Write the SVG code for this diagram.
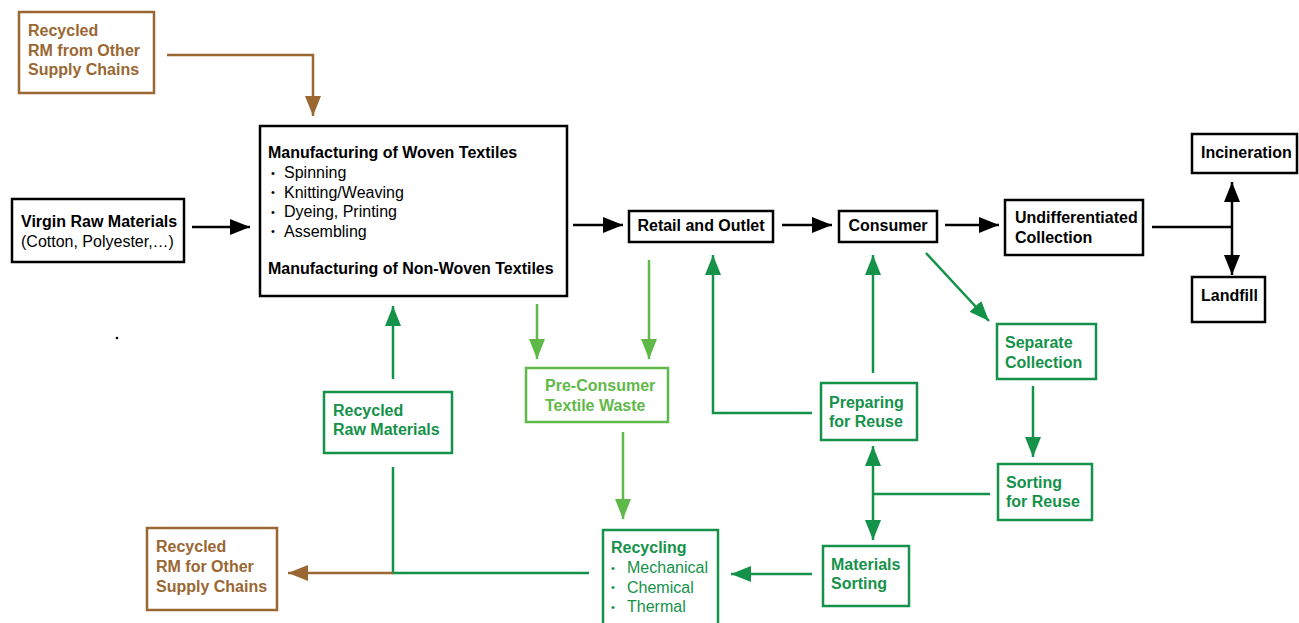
<svg xmlns="http://www.w3.org/2000/svg" width="1299" height="623" viewBox="0 0 1299 623">
<style>
text{font-family:"Liberation Sans",Arial,sans-serif;font-size:16px}
.b{font-weight:bold}
.bu{font-size:11px}
.box{fill:#fff;stroke-width:2.5}
.k{stroke:#000}.g{stroke:#14924a}.lg{stroke:#5fb948}.br{stroke:#9a6733}
.tk{fill:#000}.tg{fill:#14924a}.tlg{fill:#5fb948}.tbr{fill:#9a6733}
.ln{fill:none;stroke-width:2.5}
</style>
<defs>
<marker id="ak" viewBox="0 0 20 16" refX="20" refY="8" markerWidth="20" markerHeight="16" markerUnits="userSpaceOnUse" orient="auto-start-reverse"><path d="M0,0L20,8L0,16z" fill="#000"/></marker>
<marker id="ag" viewBox="0 0 20 16" refX="20" refY="8" markerWidth="20" markerHeight="16" markerUnits="userSpaceOnUse" orient="auto-start-reverse"><path d="M0,0L20,8L0,16z" fill="#14924a"/></marker>
<marker id="alg" viewBox="0 0 20 16" refX="20" refY="8" markerWidth="20" markerHeight="16" markerUnits="userSpaceOnUse" orient="auto-start-reverse"><path d="M0,0L20,8L0,16z" fill="#5fb948"/></marker>
<marker id="abr" viewBox="0 0 20 16" refX="20" refY="8" markerWidth="20" markerHeight="16" markerUnits="userSpaceOnUse" orient="auto-start-reverse"><path d="M0,0L20,8L0,16z" fill="#9a6733"/></marker>
</defs>

<g id="connectors">
<path class="ln br" d="M167,55H313V116" marker-end="url(#abr)"/>
<path class="ln k" d="M192,227H250" marker-end="url(#ak)"/>
<path class="ln k" d="M573,225H623" marker-end="url(#ak)"/>
<path class="ln k" d="M782,225H832" marker-end="url(#ak)"/>
<path class="ln k" d="M945,225H999" marker-end="url(#ak)"/>
<path class="ln k" d="M1152,227H1232"/>
<path class="ln k" d="M1232,182V275" marker-start="url(#ak)" marker-end="url(#ak)"/>
<path class="ln lg" d="M537,304V359" marker-end="url(#alg)"/>
<path class="ln lg" d="M649,260V359" marker-end="url(#alg)"/>
<path class="ln lg" d="M623,432V519" marker-end="url(#alg)"/>
<path class="ln g" d="M812,413H713V255" marker-end="url(#ag)"/>
<path class="ln g" d="M873,373V255" marker-end="url(#ag)"/>
<path class="ln g" d="M926,253L989,321" marker-end="url(#ag)"/>
<path class="ln g" d="M1033,386V457" marker-end="url(#ag)"/>
<path class="ln g" d="M990,494H873"/>
<path class="ln g" d="M873,446V540" marker-start="url(#ag)" marker-end="url(#ag)"/>
<path class="ln g" d="M812,574H731" marker-end="url(#ag)"/>
<path class="ln g" d="M393,379V306" marker-end="url(#ag)"/>
<path class="ln g" d="M589,573H393V467"/>
<path class="ln br" d="M393,573H288" marker-end="url(#abr)"/>
</g>

<circle cx="117" cy="338" r="1.3" fill="#000"/>

<g id="rm-from-other">
<rect class="box br" x="19" y="12" width="135" height="81"/>
<text class="b tbr" x="28" y="36">Recycled</text>
<text class="b tbr" x="28" y="55.5">RM from Other</text>
<text class="b tbr" x="28" y="75">Supply Chains</text>
</g>

<g id="virgin">
<rect class="box k" x="12" y="199" width="172" height="63"/>
<text class="b tk" x="21" y="227">Virgin Raw Materials</text>
<text class="tk" x="21" y="247">(Cotton, Polyester,…)</text>
</g>

<g id="manufacturing">
<rect class="box k" x="260" y="126" width="307" height="170"/>
<text class="b tk" x="268" y="158">Manufacturing of Woven Textiles</text>
<text class="tk bu" x="271" y="176.5">•</text><text class="tk" x="284" y="178">Spinning</text>
<text class="tk bu" x="271" y="196">•</text><text class="tk" x="284" y="197.5">Knitting/Weaving</text>
<text class="tk bu" x="271" y="215.5">•</text><text class="tk" x="284" y="217">Dyeing, Printing</text>
<text class="tk bu" x="271" y="235">•</text><text class="tk" x="284" y="236.5">Assembling</text>
<text class="b tk" x="268" y="274">Manufacturing of Non-Woven Textiles</text>
</g>

<g id="retail">
<rect class="box k" x="629" y="211" width="144" height="31"/>
<text class="b tk" x="701" y="230.5" text-anchor="middle">Retail and Outlet</text>
</g>

<g id="consumer">
<rect class="box k" x="839" y="211" width="98" height="31"/>
<text class="b tk" x="888" y="230.5" text-anchor="middle">Consumer</text>
</g>

<g id="undiff">
<rect class="box k" x="1005" y="200" width="138" height="55"/>
<text class="b tk" x="1015" y="223">Undifferentiated</text>
<text class="b tk" x="1015" y="243">Collection</text>
</g>

<g id="incineration">
<rect class="box k" x="1192" y="134" width="105" height="39"/>
<text class="b tk" x="1201" y="158">Incineration</text>
</g>

<g id="landfill">
<rect class="box k" x="1192" y="277" width="73" height="45"/>
<text class="b tk" x="1201" y="301">Landfill</text>
</g>

<g id="pre-consumer">
<rect class="box lg" x="526" y="368" width="142" height="54"/>
<text class="b tlg" x="545" y="391">Pre-Consumer</text>
<text class="b tlg" x="545" y="410.5">Textile Waste</text>
</g>

<g id="preparing">
<rect class="box g" x="821" y="383" width="96" height="57"/>
<text class="b tg" x="829" y="408">Preparing</text>
<text class="b tg" x="829" y="427">for Reuse</text>
</g>

<g id="separate">
<rect class="box g" x="997" y="324" width="99" height="55"/>
<text class="b tg" x="1005" y="348">Separate</text>
<text class="b tg" x="1005" y="367.5">Collection</text>
</g>

<g id="sorting-reuse">
<rect class="box g" x="998" y="464" width="94" height="56"/>
<text class="b tg" x="1006" y="488">Sorting</text>
<text class="b tg" x="1006" y="507">for Reuse</text>
</g>

<g id="materials-sorting">
<rect class="box g" x="823" y="546" width="86" height="60"/>
<text class="b tg" x="831" y="570">Materials</text>
<text class="b tg" x="831" y="589">Sorting</text>
</g>

<g id="recycling">
<rect class="box g" x="603" y="530" width="115" height="100"/>
<text class="b tg" x="611" y="553">Recycling</text>
<text class="tg bu" x="611" y="571.5">•</text><text class="tg" x="627" y="573">Mechanical</text>
<text class="tg bu" x="611" y="591">•</text><text class="tg" x="627" y="592.5">Chemical</text>
<text class="tg bu" x="611" y="610.5">•</text><text class="tg" x="627" y="612">Thermal</text>
</g>

<g id="recycled-raw">
<rect class="box g" x="324" y="392" width="128" height="61"/>
<text class="b tg" x="333" y="416">Recycled</text>
<text class="b tg" x="333" y="435">Raw Materials</text>
</g>

<g id="rm-for-other">
<rect class="box br" x="147" y="528" width="130" height="82"/>
<text class="b tbr" x="156" y="552">Recycled</text>
<text class="b tbr" x="156" y="571.5">RM for Other</text>
<text class="b tbr" x="156" y="591.5">Supply Chains</text>
</g>
</svg>
